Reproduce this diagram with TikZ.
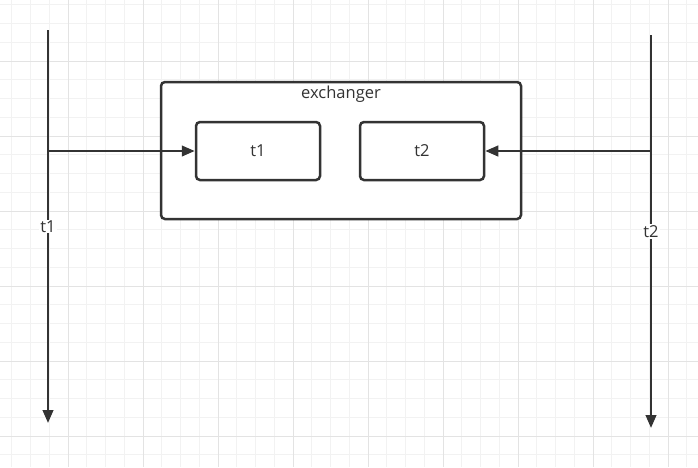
\documentclass[tikz,border=0pt]{standalone}
\usepackage{fontspec}
\setmainfont{Open Sans}
\usetikzlibrary{arrows.meta, positioning}

\definecolor{ink}{HTML}{333333}
\definecolor{gridminor}{HTML}{F2F2F2}
\definecolor{gridmajor}{HTML}{E3E3E3}

\begin{document}
\begin{tikzpicture}[
    x=1pt, y=-1pt,
    font=\fontsize{16.5}{19}\selectfont,
    box/.style={rectangle, draw=ink, line width=2.5pt, rounded corners=4pt, fill=white, text=ink, align=center},
    arrow/.style={-{Triangle[length=13pt, width=10.5pt]}, draw=ink, line width=2.5pt},
    lbl/.style={fill=white, text=ink, inner sep=1pt}
]

% Canvas and grid
\useasboundingbox (0,0) rectangle (698,467);
\fill[white] (0,0) rectangle (698,467);
\foreach \k in {0,...,37} {
    \draw[gridminor, line width=1pt] ({11.75+18.75*\k},0) -- ({11.75+18.75*\k},467);
}
\foreach \k in {0,...,24} {
    \draw[gridminor, line width=1pt] (0,{4.75+18.75*\k}) -- (698,{4.75+18.75*\k});
}
\foreach \k in {0,...,9} {
    \draw[gridmajor, line width=1pt] ({68+75*\k},0) -- ({68+75*\k},467);
}
\foreach \k in {0,...,5} {
    \draw[gridmajor, line width=1pt] (0,{61+75*\k}) -- (698,{61+75*\k});
}

% Nodes using absolute positioning for exact control
\node[box, minimum width=360pt, minimum height=137pt] (exch) at (341, 150.5) {};
\node[text=ink] (exchlbl) at (341, 94) {exchanger};
\node[box, minimum width=124pt, minimum height=58pt] (slot1) at (258, 151) {t1};
\node[box, minimum width=124pt, minimum height=58pt] (slot2) at (422, 151) {t2};

% Thread lines
\coordinate (t1top) at (48, 30);
\coordinate (t1bot) at (48, 423);
\coordinate (t1hook) at (48, 151);
\coordinate (t2top) at (651, 35);
\coordinate (t2bot) at (651, 428);
\coordinate (t2hook) at (651, 151);

% Arrows
\draw[arrow] (t1top) -- node[lbl] (t1lbl) {t1} (t1bot);
\draw[arrow] (t2top) -- node[lbl] (t2lbl) {t2} (t2bot);
\draw[arrow] (t1hook) -- (slot1.west);
\draw[arrow] (t2hook) -- (slot2.east);

\end{tikzpicture}
\end{document}
